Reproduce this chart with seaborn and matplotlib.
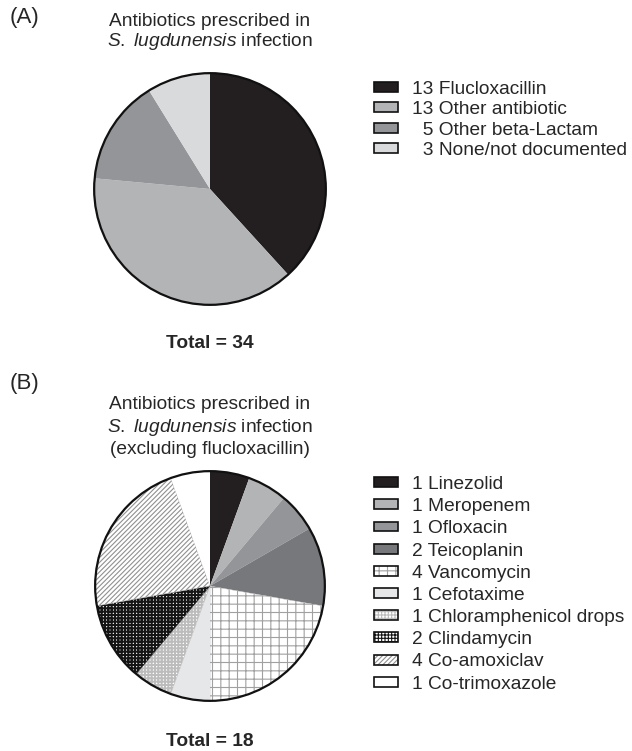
import matplotlib
matplotlib.use("Agg")
import matplotlib.pyplot as plt
import seaborn as sns
from matplotlib.patches import Patch, Circle
from matplotlib.legend_handler import HandlerTuple

# (A) all antibiotics
a_names = ["Flucloxacillin", "Other antibiotic", "Other beta-Lactam", "None/not documented"]
a_counts = [13, 13, 5, 3]
a_colors = ["#231f20", "#b3b4b6", "#939598", "#d9dadb"]

# (B) excluding flucloxacillin
b_names = ["Linezolid", "Meropenem", "Ofloxacin", "Teicoplanin", "Vancomycin", "Cefotaxime",
           "Chloramphenicol drops", "Clindamycin", "Co-amoxiclav", "Co-trimoxazole"]
b_counts = [1, 1, 1, 2, 4, 1, 1, 2, 4, 1]
b_colors = ["#231f20", "#b3b4b6", "#939598", "#77787b", "#ffffff", "#e6e7e8",
            "#ffffff", "#ffffff", "#ffffff", "#ffffff"]
b_hatches = [None, None, None, None, "++", None, "+++++", "+++++", "///////", None]
b_hatch_colors = [None, None, None, None, "#a0a0a0", None, "#bcbcbc", "#151515", "#909090", None]
b_hatch_lw = [None, None, None, None, 0.8, None, 1.4, 1.5, 0.8, None]

sns.set_style("white")
plt.rcParams["font.family"] = ["Liberation Sans", "DejaVu Sans"]
plt.rcParams["mathtext.fontset"] = "custom"
plt.rcParams["mathtext.rm"] = "Liberation Sans"
plt.rcParams["mathtext.it"] = "Liberation Sans:italic"
plt.rcParams["hatch.linewidth"] = 0.8

W, H = 632, 751
FS = 13.8
fig = plt.figure(figsize=(W / 100, H / 100), dpi=100)


def pie_axes(cx, cy, r):
    return fig.add_axes([(cx - r) / W, 1 - (cy + r) / H, 2 * r / W, 2 * r / H])


def draw_pie(ax, counts, colors, hatches=None, hcolors=None, hlw=None):
    wedges, _ = ax.pie(counts, colors=colors, startangle=90, counterclock=False,
                       wedgeprops=dict(linewidth=0))
    for i, w in enumerate(wedges):
        if hatches and hatches[i]:
            w.set_hatch(hatches[i])
            w.set_edgecolor(hcolors[i])
            w.set_linewidth(0.3)
            if hasattr(w, "set_hatch_linewidth"):
                w.set_hatch_linewidth(hlw[i])
    ax.add_patch(Circle((0, 0), 1, fill=False, edgecolor="#111111", linewidth=1.6))
    ax.set_xlim(-1.01, 1.01)
    ax.set_ylim(-1.01, 1.01)
    ax.set_aspect("equal")
    ax.axis("off")
    return wedges


def fmt(n, name, width):
    return " " * (2 * (width - len(str(n)))) + f"{n} {name}"


leg_kw = dict(loc="upper left", frameon=False, fontsize=FS, handlelength=1.25,
              handleheight=0.42, handletextpad=0.75, borderpad=0, borderaxespad=0)

# panel A
axA = pie_axes(210, 189, 117)
draw_pie(axA, a_counts, a_colors)
fig.text(10 / W, 1 - 17 / H, "(A)", fontsize=16, va="center", ha="left")
fig.text(210 / W, 1 - 22 / H, "Antibiotics prescribed in", fontsize=FS, ha="center", va="center")
fig.text(210 / W, 1 - 42 / H, r"$S.$ $lugdunensis$ infection", fontsize=FS, ha="center", va="center")
fig.text(210 / W, 1 - 343 / H, "Total = 34", fontsize=FS, fontweight="bold", ha="center", va="center")
hA = [Patch(facecolor=c, edgecolor="#111111", linewidth=1.2) for c in a_colors]
fig.legend(hA, [fmt(n, s, 2) for n, s in zip(a_counts, a_names)],
           bbox_to_anchor=(374 / W, 1 - 81 / H), labelspacing=0.17, **leg_kw)

# panel B
axB = pie_axes(210, 586, 116)
draw_pie(axB, b_counts, b_colors, b_hatches, b_hatch_colors, b_hatch_lw)
fig.text(10 / W, 1 - 383 / H, "(B)", fontsize=16, va="center", ha="left")
fig.text(210 / W, 1 - 405 / H, "Antibiotics prescribed in", fontsize=FS, ha="center", va="center")
fig.text(210 / W, 1 - 427 / H, r"$S.$ $lugdunensis$ infection", fontsize=FS, ha="center", va="center")
fig.text(210 / W, 1 - 450 / H, "(excluding flucloxacillin)", fontsize=FS, ha="center", va="center")
fig.text(210 / W, 1 - 742 / H, "Total = 18", fontsize=FS, fontweight="bold", ha="center", va="center")

# legend keys: hatched fill (in the hatch colour) with a black frame on top
hB = []
for c, h, hc in zip(b_colors, b_hatches, b_hatch_colors):
    fill = Patch(facecolor=c, edgecolor=hc if hc else c, linewidth=0, hatch=h)
    frame = Patch(fill=False, edgecolor="#111111", linewidth=1.2)
    hB.append((fill, frame))
fig.legend(hB, [f"{n} {s}" for n, s in zip(b_counts, b_names)],
           bbox_to_anchor=(374 / W, 1 - 476 / H), labelspacing=0.27,
           handler_map={tuple: HandlerTuple(ndivide=1, pad=0)}, **leg_kw)

fig.savefig("out.png", dpi=100)
